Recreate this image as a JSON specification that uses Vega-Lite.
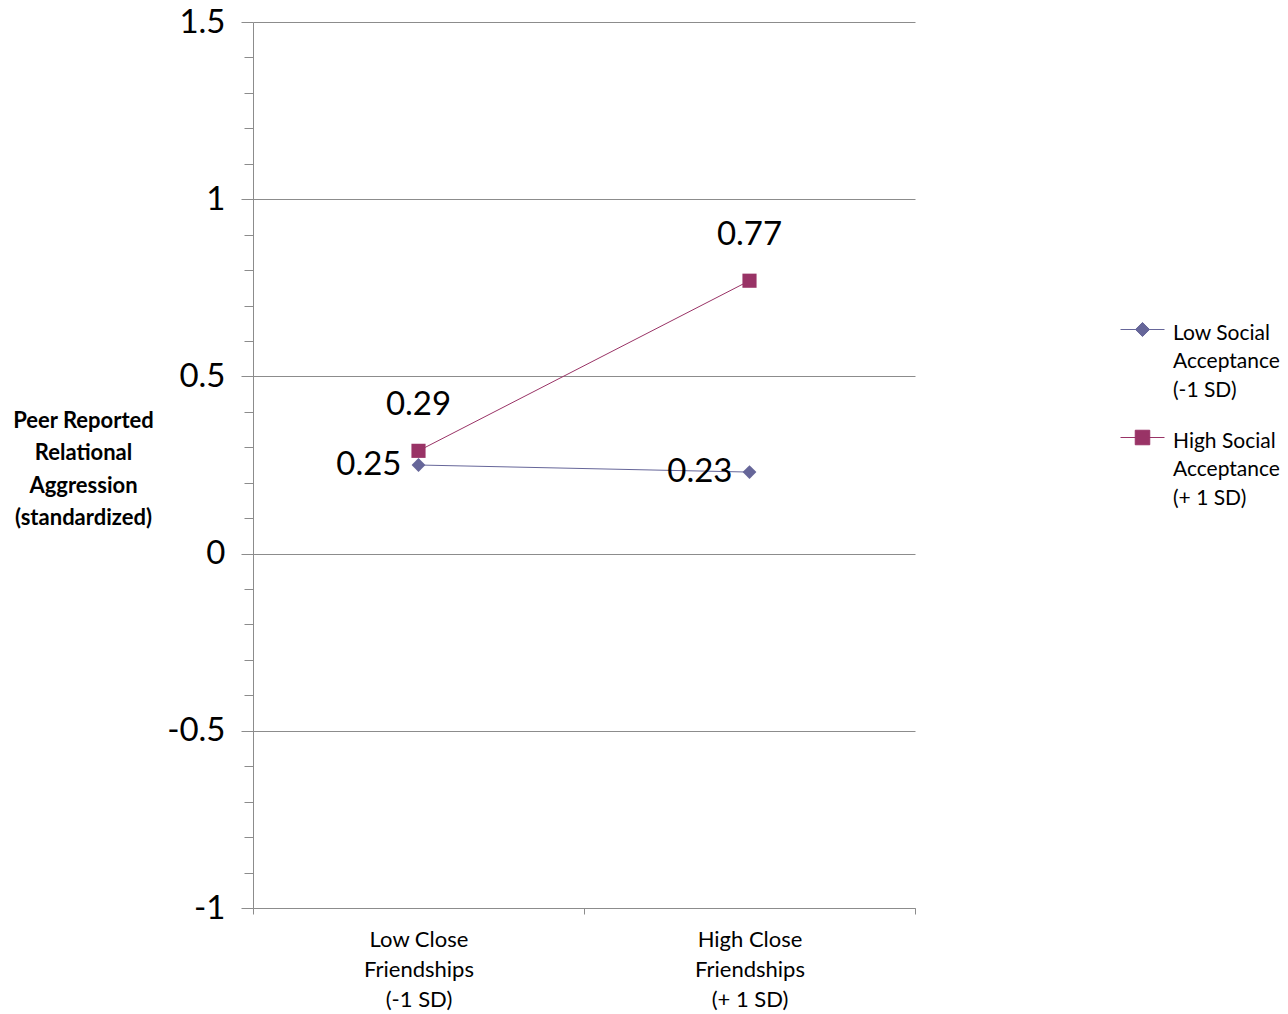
{
  "$schema": "https://vega.github.io/schema/vega-lite/v6.json",
  "autosize": "none",
  "width": 662,
  "height": 886,
  "padding": {"left": 253, "top": 22, "right": 373, "bottom": 106},
  "background": "white",
  "config": {
    "view": {"stroke": null},
    "font": "Lato",
    "axis": {"domainColor": "#8c8c8c", "tickColor": "#8c8c8c", "gridColor": "#8c8c8c", "labelColor": "black", "titleColor": "black", "labelFont": "Lato", "titleFont": "Lato"},
    "legend": {
      "title": null,
      "orient": "none",
      "legendX": 867,
      "legendY": 285,
      "padding": 0,
      "symbolSize": 1936,
      "symbolStrokeWidth": 1,
      "labelFontSize": 21,
      "labelFont": "Lato",
      "labelColor": "black",
      "labelOffset": 8,
      "labelLimit": 0,
      "labelBaseline": "top",
      "rowPadding": 14
    }
  },
  "data": {
    "values": [
      {"friendship": "Low Close Friendships (-1 SD)", "acceptance": "Low Social Acceptance (-1 SD)", "aggression": 0.25},
      {"friendship": "High Close Friendships (+ 1 SD)", "acceptance": "Low Social Acceptance (-1 SD)", "aggression": 0.23},
      {"friendship": "Low Close Friendships (-1 SD)", "acceptance": "High Social Acceptance (+ 1 SD)", "aggression": 0.29},
      {"friendship": "High Close Friendships (+ 1 SD)", "acceptance": "High Social Acceptance (+ 1 SD)", "aggression": 0.77}
    ]
  },
  "encoding": {
    "x": {
      "field": "friendship",
      "type": "nominal",
      "sort": ["Low Close Friendships (-1 SD)", "High Close Friendships (+ 1 SD)"],
      "scale": {"type": "band", "paddingInner": 0, "paddingOuter": 0},
      "axis": {
        "title": null,
        "labelAngle": 0,
        "tickBand": "extent",
        "tickSize": 6,
        "labelFontSize": 22,
        "labelBaseline": "top",
        "labelLineHeight": 30,
        "labelPadding": 15,
        "labelExpr": "datum.value == 'Low Close Friendships (-1 SD)' ? ['Low Close', 'Friendships', '(-1 SD)'] : datum.value == 'High Close Friendships (+ 1 SD)' ? ['High Close', 'Friendships', '(+ 1 SD)'] : ''"
      }
    },
    "y": {
      "field": "aggression",
      "type": "quantitative",
      "scale": {"domain": [-1, 1.5], "nice": false, "zero": false},
      "axis": {
        "values": [-1, -0.9, -0.8, -0.7, -0.6, -0.5, -0.4, -0.3, -0.2, -0.1, 0, 0.1, 0.2, 0.3, 0.4, 0.5, 0.6, 0.7, 0.8, 0.9, 1, 1.1, 1.2, 1.3, 1.4, 1.5],
        "grid": true,
        "gridOpacity": {"condition": {"test": "abs(datum.value * 2 - round(datum.value * 2)) < 0.000001", "value": 1}, "value": 0},
        "tickSize": {"condition": {"test": "abs(datum.value * 2 - round(datum.value * 2)) < 0.000001", "value": 12}, "value": 9},
        "labelExpr": "abs(datum.value * 2 - round(datum.value * 2)) < 0.000001 ? '' + datum.value : ''",
        "labelFontSize": 33,
        "labelPadding": 16,
        "labelFlush": false,
        "title": ["Peer Reported", "Relational", "Aggression", "(standardized)"],
        "titleAngle": 0,
        "titleAlign": "center",
        "titleBaseline": "top",
        "titleX": -170,
        "titleY": 388,
        "titleFontSize": 22,
        "titleFontWeight": "bold",
        "titleLineHeight": 32.5
      }
    },
    "color": {
      "field": "acceptance",
      "type": "nominal",
      "scale": {"domain": ["Low Social Acceptance (-1 SD)", "High Social Acceptance (+ 1 SD)"], "range": ["#666699", "#993366"]},
      "legend": {
        "labelExpr": "datum.value == 'Low Social Acceptance (-1 SD)' ? ['Low Social', 'Acceptance', '(-1 SD)'] : ['High Social', 'Acceptance', ' (+ 1 SD)']",
        "encode": {
          "symbols": {
            "update": {
              "shape": {"signal": "datum.value == 'Low Social Acceptance (-1 SD)' ? 'M-1,0H1M0,-0.32L0.32,0L0,0.32L-0.32,0Z' : 'M-1,0H1M-0.33,-0.33H0.33V0.33H-0.33Z'"},
              "stroke": {"signal": "datum.value == 'Low Social Acceptance (-1 SD)' ? '#666699' : '#993366'"},
              "fill": {"signal": "datum.value == 'Low Social Acceptance (-1 SD)' ? '#666699' : '#993366'"},
              "strokeWidth": {"value": 1},
              "opacity": {"value": 1}
            }
          },
          "labels": {
            "update": {"lineHeight": {"value": 28.5}, "dy": {"value": -7}}
          }
        }
      }
    }
  },
  "layer": [
    {
      "mark": {"type": "line", "strokeWidth": 1},
      "encoding": {"detail": {"field": "acceptance"}}
    },
    {
      "transform": [{"filter": "datum.acceptance == 'Low Social Acceptance (-1 SD)'"}],
      "mark": {"type": "point", "filled": true, "opacity": 1, "size": 190, "shape": "diamond"}
    },
    {
      "transform": [{"filter": "datum.acceptance == 'High Social Acceptance (+ 1 SD)'"}],
      "mark": {"type": "point", "filled": true, "opacity": 1, "size": 200, "shape": "square"}
    },
    {
      "transform": [{"filter": "datum.acceptance == 'High Social Acceptance (+ 1 SD)'"}],
      "mark": {"type": "text", "fontSize": 33, "font": "Lato", "align": "center", "baseline": "middle", "dy": -46},
      "encoding": {"color": {"value": "black"}, "text": {"field": "aggression", "type": "quantitative", "format": ".2f"}}
    },
    {
      "transform": [{"filter": "datum.acceptance == 'Low Social Acceptance (-1 SD)'"}],
      "mark": {"type": "text", "fontSize": 33, "font": "Lato", "align": "right", "baseline": "middle", "dx": -17},
      "encoding": {"color": {"value": "black"}, "text": {"field": "aggression", "type": "quantitative", "format": ".2f"}}
    }
  ]
}
